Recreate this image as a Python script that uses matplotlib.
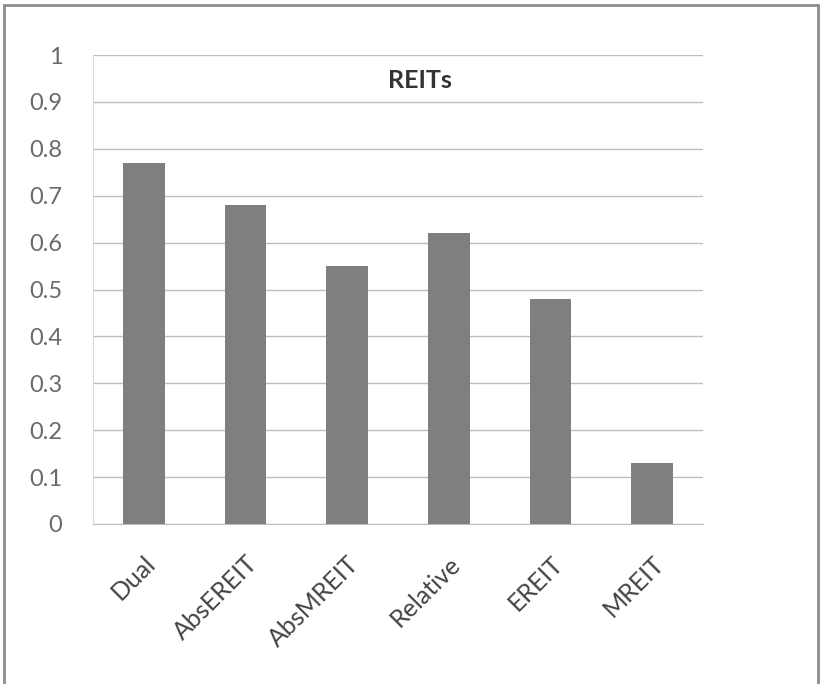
import numpy as np
import matplotlib.pyplot as plt
from matplotlib.patches import Rectangle

categories = ['Dual', 'AbsEREIT', 'AbsMREIT', 'Relative', 'EREIT', 'MREIT']
values = [0.77, 0.68, 0.55, 0.62, 0.48, 0.13]
y_ticks = [0, 0.1, 0.2, 0.3, 0.4, 0.5, 0.6, 0.7, 0.8, 0.9, 1]
y_labels = ['0', '0.1', '0.2', '0.3', '0.4', '0.5', '0.6', '0.7', '0.8', '0.9', '1']

plt.rcParams['font.family'] = ['Lato', 'DejaVu Sans']

fig = plt.figure(figsize=(8.23, 6.84), dpi=100)
ax = fig.add_axes([93/823, 1 - 524/684, 610/823, 469/684])

x = np.arange(len(categories))
ax.bar(x, values, width=0.41, color='#7f7f7f', zorder=3)

ax.set_xlim(-0.5, len(categories) - 0.5)
ax.set_ylim(0, 1)
ax.set_yticks(y_ticks)
ax.set_yticklabels(y_labels, fontsize=17, color='#6a6a6a')
ax.set_xticks(x)
ax.set_xticklabels(categories, fontsize=18, color='#444444',
                   rotation=45, ha='right', rotation_mode='anchor')
ax.tick_params(axis='both', length=0)
ax.tick_params(axis='y', pad=22)
ax.tick_params(axis='x', pad=20)

ax.grid(axis='y', color='#bdbdbd', linewidth=1, zorder=0)
for side in ['top', 'right']:
    ax.spines[side].set_visible(False)
ax.spines['left'].set_color('#d9d9d9')
ax.spines['bottom'].set_color('#bdbdbd')

fig.text(420/823, 1 - 80/684, 'REITs', fontsize=18, fontweight='bold',
         ha='center', va='center', color='#333333')

# outer chart frame
fig.patches.append(Rectangle((4/823, -0.01), 814/823, 1 - 5/684 + 0.01,
                             transform=fig.transFigure, fill=False,
                             edgecolor='#8c8c8c', linewidth=2))

fig.savefig('out.png', dpi=100)
